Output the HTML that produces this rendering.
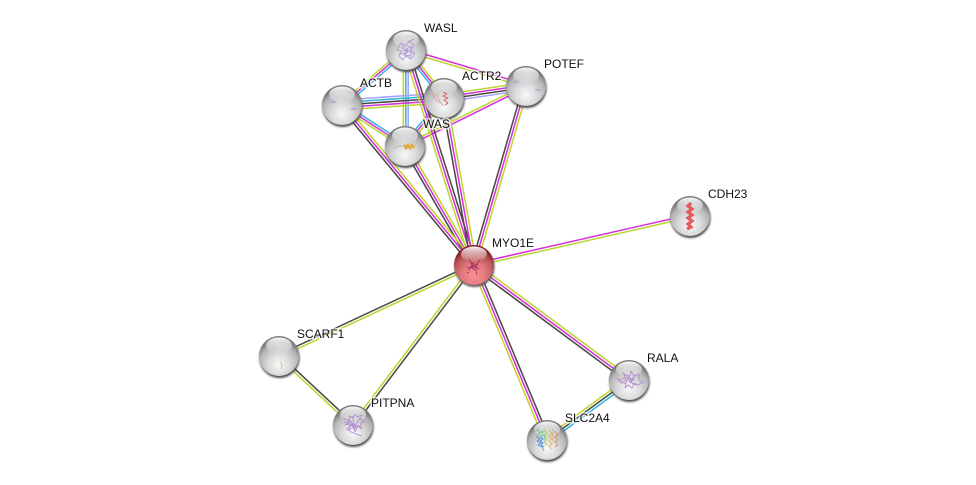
<!DOCTYPE html>
<html><head><meta charset="utf-8"><style>
html,body{margin:0;padding:0;background:#fff;width:976px;height:485px;overflow:hidden}
svg{display:block}
.e line{stroke-width:1.55;fill:none}
.g{stroke:#bcd630}.m{stroke:#d832d8}.k{stroke:#4a4a4a}.c{stroke:#38b6dc}.b{stroke:#a4a4fa}
text{font-family:"Liberation Sans",sans-serif;font-size:12px;fill:#111}
.h{stroke:#fff;stroke-width:3.5;stroke-opacity:.65;stroke-linejoin:round;fill:#fff;fill-opacity:.6}
.s{fill:none;stroke-width:.8;stroke-linejoin:round}
</style></head><body>
<svg width="976" height="485" viewBox="0 0 976 485" xmlns="http://www.w3.org/2000/svg">
<defs>
<radialGradient id="gb" cx="50%" cy="72%" r="62%">
<stop offset="0" stop-color="#f8f8f8"/><stop offset=".45" stop-color="#dadada"/><stop offset=".8" stop-color="#b4b4b4"/><stop offset="1" stop-color="#7c7c7c"/>
</radialGradient>
<radialGradient id="rb" cx="50%" cy="76%" r="66%">
<stop offset="0" stop-color="#fb8f95"/><stop offset=".45" stop-color="#e07a7e"/><stop offset=".8" stop-color="#b85456"/><stop offset="1" stop-color="#862224"/>
</radialGradient>
<linearGradient id="hl" x1="0" y1="0" x2="0" y2="1">
<stop offset="0" stop-color="#fff" stop-opacity=".95"/><stop offset="1" stop-color="#fff" stop-opacity=".05"/>
</linearGradient>
<filter id="bl" x="-20%" y="-20%" width="140%" height="140%"><feGaussianBlur stdDeviation="1"/></filter>
<g id="ball">
<circle cx="0.5" cy="2" r="20" fill="#444" filter="url(#bl)"/>
<circle r="20" fill="url(#gb)"/>
<ellipse cy="-10.5" rx="13" ry="8" fill="url(#hl)"/>
</g>
<g id="rball">
<circle cx="0.5" cy="2" r="20" fill="#555" filter="url(#bl)"/>
<circle r="20" fill="url(#rb)"/>
<ellipse cy="-11" rx="13" ry="7.5" fill="url(#hl)"/>
</g>
</defs>
<rect width="976" height="485" fill="#fff"/>
<g class="e">
<!-- cluster -->
<line class="m" x1="406.4" y1="48.7" x2="526.4" y2="84.7"/>
<line class="g" x1="405.6" y1="51.3" x2="525.6" y2="87.3"/>
<line class="g" x1="404.5" y1="48.3" x2="340.5" y2="103.3"/>
<line class="m" x1="406" y1="50" x2="342" y2="105"/>
<line class="c" x1="407.5" y1="51.7" x2="343.5" y2="106.7"/>
<line class="c" x1="404.2" y1="51.4" x2="442.2" y2="99.4"/>
<line class="m" x1="406" y1="50" x2="444" y2="98"/>
<line class="g" x1="407.8" y1="48.6" x2="445.8" y2="96.6"/>
<line class="g" x1="403.3" y1="50" x2="403.3" y2="146"/>
<line class="c" x1="405.8" y1="50" x2="405.8" y2="146"/>
<line class="b" x1="408.2" y1="50" x2="408.2" y2="146"/>
<line class="b" x1="342" y1="100" x2="444" y2="93"/>
<line class="c" x1="342" y1="102.5" x2="444" y2="95.5"/>
<line class="k" x1="342" y1="105" x2="444" y2="98"/>
<line class="m" x1="342" y1="107.5" x2="444" y2="100.5"/>
<line class="g" x1="342" y1="110" x2="444" y2="103"/>
<line class="c" x1="343.3" y1="103.1" x2="406.3" y2="144.1"/>
<line class="m" x1="342" y1="105" x2="405" y2="146"/>
<line class="g" x1="340.7" y1="106.9" x2="403.7" y2="147.9"/>
<line class="g" x1="444" y1="94.5" x2="526" y2="82.5"/>
<line class="m" x1="444" y1="97" x2="526" y2="85"/>
<line class="k" x1="444" y1="99.5" x2="526" y2="87.5"/>
<line class="b" x1="444" y1="102" x2="526" y2="90"/>
<line class="c" x1="442.2" y1="96.6" x2="403.2" y2="144.6"/>
<line class="m" x1="444" y1="98" x2="405" y2="146"/>
<line class="g" x1="445.8" y1="99.5" x2="406.8" y2="147.5"/>
<line class="g" x1="404.5" y1="145" x2="525.5" y2="85"/>
<line class="m" x1="405.5" y1="147.2" x2="526.5" y2="87.2"/>
<!-- to MYO1E -->
<line class="k" x1="523.5" y1="85.3" x2="471.5" y2="264.3"/>
<line class="m" x1="526" y1="86" x2="474" y2="265"/>
<line class="g" x1="528.5" y1="86.7" x2="476.5" y2="265.7"/>
<line class="m" x1="689.7" y1="214.7" x2="473.7" y2="263.7"/>
<line class="g" x1="690.3" y1="217.3" x2="474.3" y2="266.3"/>
<line class="k" x1="278.4" y1="354.8" x2="473.4" y2="263.8"/>
<line class="g" x1="279.6" y1="357.2" x2="474.6" y2="266.2"/>
<line class="k" x1="354.1" y1="425.8" x2="475.1" y2="265.8"/>
<line class="g" x1="351.9" y1="424.2" x2="472.9" y2="264.2"/>
<line class="g" x1="630.6" y1="377.9" x2="475.6" y2="262.9"/>
<line class="m" x1="629" y1="380" x2="474" y2="265"/>
<line class="k" x1="627.4" y1="382.1" x2="472.4" y2="267.1"/>
<line class="k" x1="549.4" y1="439" x2="476.4" y2="264"/>
<line class="m" x1="547" y1="440" x2="474" y2="265"/>
<line class="g" x1="544.6" y1="441" x2="471.6" y2="266"/>
<line class="k" x1="279.9" y1="355" x2="353.9" y2="424"/>
<line class="g" x1="278.1" y1="357" x2="352.1" y2="426"/>
<line class="g" x1="627.5" y1="377.9" x2="545.5" y2="437.9"/>
<line class="k" x1="629" y1="380" x2="547" y2="440"/>
<line class="c" x1="630.5" y1="382.1" x2="548.5" y2="442.1"/>
<line class="g" x1="403.5" y1="50.8" x2="471.5" y2="265.8"/>
<line class="m" x1="406" y1="50" x2="474" y2="265"/>
<line class="k" x1="408.5" y1="49.2" x2="476.5" y2="264.2"/>
<line class="k" x1="441.4" y1="98.5" x2="471.4" y2="265.5"/>
<line class="m" x1="444" y1="98" x2="474" y2="265"/>
<line class="g" x1="446.6" y1="97.5" x2="476.6" y2="264.5"/>
<line class="k" x1="402.8" y1="147.3" x2="471.8" y2="266.3"/>
<line class="m" x1="405" y1="146" x2="474" y2="265"/>
<line class="g" x1="407.2" y1="144.7" x2="476.2" y2="263.7"/>
<line class="k" x1="340" y1="106.7" x2="472" y2="266.7"/>
<line class="m" x1="342" y1="105" x2="474" y2="265"/>
<line class="g" x1="344" y1="103.4" x2="476" y2="263.4"/>
</g>

<use href="#ball" x="406" y="50"/>
<path class="s" stroke="#ad8fd6" d="M397 50l4-7 5 3 3-5 5 4-4 5 5 3-4 6-5-3-3 4-4-4 3-5-5-1zM402 45l6 7-4 3 7 1M408 42l6-3M399 53l5 1 3-4 5 3-3 4M401 47l4 4 5-5 2 4"/>
<use href="#ball" x="342" y="105"/>
<path class="s" stroke="#b9a0cc" d="M330 102l3-1 3 1-3 1zM351 109l3-1 3 1-2 1z"/>
<use href="#ball" x="444" y="98"/>
<path class="s" stroke="#dba0a0" d="M430 93l4 3 3 5 5 2M432 99l5-4 3 7 4 4"/>
<path class="s" stroke="#dc5050" stroke-width="1.1" d="M443 92l4 2-4 2 5 2-4 2 4 3-3 2"/>
<use href="#ball" x="526" y="86"/>
<path class="s" stroke="#b9a0cc" d="M513 82l3-1 3 1-3 1zM535 90l3-1 3 1-3 1z"/>
<use href="#ball" x="405" y="146"/>
<path class="s" stroke="#aaa" d="M395 148l4-2 4 0"/>
<path fill="none" stroke="#dcaa40" stroke-width="2.6" d="M404 145l2 3 2-3 2 3 2-3 2 3"/>
<use href="#rball" x="474" y="265"/>
<path class="s" stroke="#9a2a5a" d="M469 259l3 6-3 5M474 262l-2 6 5 3M480 260l-6 7 5 2M467 268l5-1 6 0M476 272l1 3M469 272l-2 1M471 262l4 4 3-2"/>
<use href="#ball" x="690" y="216"/>
<path fill="none" stroke="#e25a5e" stroke-width="3.2" d="M691 203l-3 3 4 3-4 3 4 3-4 3 4 3-4 3 3 3-4 2"/>
<use href="#ball" x="279" y="356"/>
<path class="s" stroke="#a0d8b8" d="M274 346l0 4-1 4"/>
<path class="s" stroke="#b8d070" d="M280 362l2 3-1 4"/>
<path class="s" stroke="#d8a090" d="M292 367l2 0"/>
<use href="#ball" x="353" y="425"/>
<path class="s" stroke="#b088d0" stroke-width="1" d="M343 418l6 3-4 4 6-1-3 6 6-3 1 5 3-6 4 3-2-6 5-1-5-3 2-4-5 2-2-3-2 4-4-2 1 5zM346 428l5 4 5 2 6 2M347 423l10 4M352 416l3 10 5-8M344 422l8 1 2 6 5-3M349 419l5 6 6 1M348 427l6-2 1 7"/>
<use href="#ball" x="629" y="380"/>
<path class="s" stroke="#b088d0" stroke-width="1" d="M617 378l5 4 4-2-2-5 6 1 1-5 3 5 5-2 0 6 4 2-5 3-4-2-2 5-4-3-3 3 1-5-5 0zM622 373l6 3 4 6M635 375l-5 7 6 3M620 380l7-3 3 5 5-3M625 384l3-6 6 1"/>
<use href="#ball" x="547" y="440"/>
<path class="s" stroke="#70c888" stroke-width="1.1" d="M535 432l3-3 2 4 3-2-1 5 3-1-1 5M537 429l3 3-2 2 3 2"/>
<path class="s" stroke="#4c88d8" stroke-width="1.1" d="M536 436l4 3-3 2 4 2-3 2 4 2 2 4M540 437l3 2-3 2 3 2-2 2 3 2"/>
<path class="s" stroke="#e0b050" stroke-width="1.1" d="M549 430l3 4-3 2 3 3-3 2 3 3-3 2 3 3M552 429l2 3-2 2 2 3-2 2 2 3"/>
<path class="s" stroke="#e08060" stroke-width="1.1" d="M555 431l3 4-3 2 3 3-3 2 3 3-3 2"/>
<path class="s" stroke="#a8c850" stroke-width="1.1" d="M544 429l3 4-3 3 3 3-3 3 3 3"/>

<text x="424" y="32" class="h">WASL</text><text x="424" y="32">WASL</text>
<text x="360" y="87" class="h">ACTB</text><text x="360" y="87">ACTB</text>
<text x="462" y="80" class="h">ACTR2</text><text x="462" y="80">ACTR2</text>
<text x="544" y="68" class="h">POTEF</text><text x="544" y="68">POTEF</text>
<text x="423" y="128" class="h">WAS</text><text x="423" y="128">WAS</text>
<text x="492" y="247" class="h">MYO1E</text><text x="492" y="247">MYO1E</text>
<text x="708" y="198" class="h">CDH23</text><text x="708" y="198">CDH23</text>
<text x="297" y="338" class="h">SCARF1</text><text x="297" y="338">SCARF1</text>
<text x="371" y="407" class="h">PITPNA</text><text x="371" y="407">PITPNA</text>
<text x="647" y="362" class="h">RALA</text><text x="647" y="362">RALA</text>
<text x="565" y="422" class="h">SLC2A4</text><text x="565" y="422">SLC2A4</text>
</svg>
</body></html>
